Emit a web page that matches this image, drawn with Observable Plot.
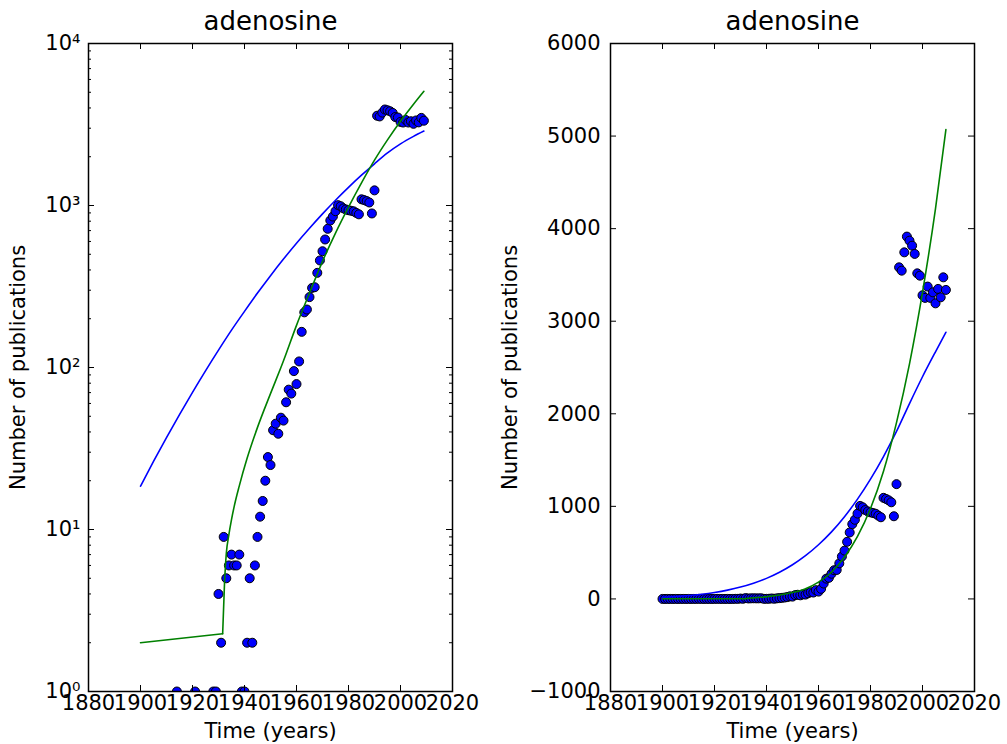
<!DOCTYPE html>
<html><head><meta charset="utf-8">
<script src="https://cdn.jsdelivr.net/npm/d3@7"></script>
<script src="https://cdn.jsdelivr.net/npm/@observablehq/plot@0.6"></script>
<style>
body{margin:0;background:#fff;}
#wrap{display:flex;width:1007px;height:744px;background:#fff;}
svg{display:block;overflow:visible;}
</style></head><body><div id="wrap"></div>
<script>
// ---- data ----
const title = "adenosine";
const xLabel = "Time (years)";
const yLabel = "Number of publications";
const years = d3.range(1900, 2010);
const counts = [
  0,0,0,0,0,0,0,0,0,0,          // 1900-1909
  0,0,0,0,1,0,0,0,0,0,          // 1910-1919
  0,1,0,0,0,0,0,0,1,1,          // 1920-1929
  4,2,9,5,6,7,6,6,7,1,          // 1930-1939
  1,2,5,2,6,9,12,15,20,28,      // 1940-1949
  25,41,45,39,49,47,61,73,69,95,// 1950-1959
  79,109,166,219,228,272,310,313,384,458,   // 1960-1969
  522,617,718,808,855,922,1005,990,960,945, // 1970-1979
  935,928,920,900,882,1092,1080,1065,1044,893, // 1980-1989
  1240,3582,3546,3744,3914,3870,3816,3727,3517,3492, // 1990-1999
  3280,3252,3374,3252,3312,3193,3349,3258,3474,3338  // 2000-2009
];
// blue fitted curve (sampled)
const blueYears  = [1900,1905,1910,1915,1920,1925,1930,1935,1940,1945,1950,1955,1960,1965,1970,1975,1980,1985,1990,1995,2000,2005,2009];
const blueValues = [18.5,26.3,36.9,51.2,70.3,95.4,128,170,222,288,369,467,585,724,888,1078,1294,1538,1809,2110,2400,2670,2880];
// green fitted curve (sampled): flat part before the kink, then the rising part
const greenFlatYears  = [1900,1931.6];
const greenFlatValues = [2,2.27];
const greenYears  = [1931.6,1932.3,1933,1934,1935,1936,1938,1941,1945,1950,1954,1955,1960,1965,1970,1975,1980,1985,1990,1995,2000,2005,2009];
const greenValues = [2.27,4.6,7.1,9.3,11.5,13.8,18.6,27.5,42.7,69,100,110,182,288,452,676,977,1380,1905,2540,3311,4217,5070];
// ticks
const xTicks = [1880,1900,1920,1940,1960,1980,2000,2020];
const logTicks = [1,10,100,1000,10000];
const logLabels = ["10⁰","10¹","10²","10³","10⁴"];
const linTicks = [-1000,0,1000,2000,3000,4000,5000,6000];

const rows = years.map((year,i)=>({year, count: counts[i]}));
const blueRows = blueYears.map((year,i)=>({year, v: blueValues[i]}));
const greenFlatRows = greenFlatYears.map((year,i)=>({year, v: greenFlatValues[i]}));
const greenRows = greenYears.map((year,i)=>({year, v: greenValues[i]}));
const logMinor = [];
for (const k of [1,10,100,1000]) for (let m=2;m<=9;m++) logMinor.push(m*k);

const FONT = "DejaVu Sans";
function panel(log) {
  const W = log ? 503 : 504;
  const mL = log ? 88 : 107, mR = log ? 51 : 33, mT = 43, mB = 53, H = 744;
  const fh = H - mT - mB, fw = W - mL - mR;
  const data = log ? rows.filter(d => d.count > 0) : rows;
  const yTicks = log ? logTicks : linTicks;
  const fmt = log ? (d => logLabels[logTicks.indexOf(d)]) : (d => d < 0 ? "\u2212" + Math.abs(d) : String(d));
  const marks = [
    Plot.dot(data, {x: "year", y: "count", r: 4.5, fill: "#0000ff", stroke: "#000", strokeWidth: 1, clip: true}),
    Plot.line(blueRows, {x: "year", y: "v", stroke: "#0000ff", strokeWidth: 1.6, curve: "monotone-x", clip: true}),
    Plot.line(greenFlatRows, {x: "year", y: "v", stroke: "#008000", strokeWidth: 1.6, clip: true}),
    Plot.line(greenRows, {x: "year", y: "v", stroke: "#008000", strokeWidth: 1.6, curve: "monotone-x", clip: true}),
    // inward ticks on all four sides
    Plot.tickX(xTicks, {x: d => d, insetBottom: fh - 6, stroke: "#000"}),
    Plot.tickX(xTicks, {x: d => d, insetTop: fh - 6, stroke: "#000"}),
    Plot.tickY(yTicks, {y: d => d, insetRight: fw - 6, stroke: "#000"}),
    Plot.tickY(yTicks, {y: d => d, insetLeft: fw - 6, stroke: "#000"}),
    Plot.axisX(xTicks, {tickSize: 0, tickPadding: 4, tickFormat: d => String(d), label: null, fontSize: 21, fontFamily: FONT, fill: "#000"}),
    Plot.axisY(yTicks, {tickSize: 0, tickPadding: log ? 8 : 10, tickFormat: fmt, label: null, fontSize: 21, fontFamily: FONT, fill: "#000"}),
    Plot.frame({stroke: "#000", strokeWidth: 1.5}),
    Plot.text([title], {text: d => d, frameAnchor: "top", lineAnchor: "middle", textAnchor: "middle", dy: -22, fontSize: 26, fontFamily: FONT, fill: "#000"}),
    Plot.text([xLabel], {text: d => d, frameAnchor: "bottom", lineAnchor: "middle", textAnchor: "middle", dy: 40, fontSize: 21, fontFamily: FONT, fill: "#000"}),
    Plot.text([yLabel], {text: d => d, frameAnchor: "left", lineAnchor: "middle", textAnchor: "middle", dx: log ? -70 : -100, rotate: -90, fontSize: 21, fontFamily: FONT, fill: "#000"})
  ];
  if (log) {
    marks.push(Plot.tickY(logMinor, {y: d => d, insetRight: fw - 3, stroke: "#000"}));
    marks.push(Plot.tickY(logMinor, {y: d => d, insetLeft: fw - 3, stroke: "#000"}));
  }
  return Plot.plot({
    width: W, height: H,
    marginLeft: mL, marginRight: mR, marginTop: mT, marginBottom: mB,
    style: {fontFamily: FONT, fontSize: "21px", background: "transparent", color: "#000", overflow: "visible"},
    x: {domain: [1880, 2020]},
    y: log ? {type: "log", domain: [1, 10000]} : {domain: [-1000, 6000]},
    marks
  });
}
document.getElementById("wrap").append(panel(true), panel(false));
</script></body></html>
